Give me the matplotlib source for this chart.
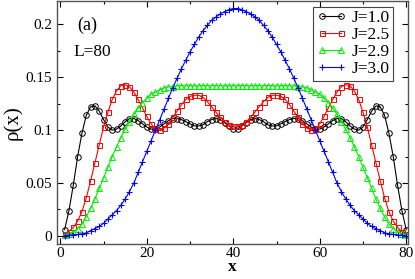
import numpy as np
import matplotlib
matplotlib.use("Agg")
import matplotlib.pyplot as plt
from matplotlib.ticker import MultipleLocator, FuncFormatter

plt.rcParams["font.family"] = ["Liberation Serif", "DejaVu Serif"]

# site index (L = 80)
x = np.arange(1, 81)

rho_j10 = [
    0.006, 0.024, 0.048, 0.075, 0.097, 0.114, 0.122, 0.123, 0.118, 0.110,
    0.103, 0.100, 0.101, 0.104, 0.108, 0.111, 0.111, 0.109, 0.106, 0.103,
    0.101, 0.101, 0.103, 0.106, 0.109, 0.111, 0.111, 0.110, 0.108, 0.106,
    0.104, 0.104, 0.105, 0.108, 0.110, 0.111, 0.110, 0.107, 0.104, 0.101,
    0.101, 0.104, 0.107, 0.110, 0.111, 0.110, 0.108, 0.105, 0.104, 0.104,
    0.106, 0.108, 0.110, 0.111, 0.111, 0.109, 0.106, 0.103, 0.101, 0.101,
    0.103, 0.106, 0.109, 0.111, 0.111, 0.108, 0.104, 0.101, 0.100, 0.103,
    0.110, 0.118, 0.123, 0.122, 0.114, 0.097, 0.075, 0.048, 0.024, 0.006,
]
rho_j25 = [
    0.002, 0.004, 0.008, 0.014, 0.023, 0.036, 0.052, 0.069, 0.086, 0.103,
    0.117, 0.129, 0.137, 0.142, 0.143, 0.141, 0.136, 0.129, 0.121, 0.113,
    0.106, 0.101, 0.100, 0.102, 0.106, 0.112, 0.118, 0.124, 0.129, 0.132,
    0.133, 0.133, 0.131, 0.127, 0.122, 0.117, 0.112, 0.108, 0.105, 0.104,
    0.104, 0.105, 0.108, 0.112, 0.117, 0.122, 0.127, 0.131, 0.133, 0.133,
    0.132, 0.129, 0.124, 0.118, 0.112, 0.106, 0.102, 0.100, 0.101, 0.106,
    0.113, 0.121, 0.129, 0.136, 0.141, 0.143, 0.142, 0.137, 0.129, 0.117,
    0.103, 0.086, 0.069, 0.052, 0.036, 0.023, 0.014, 0.008, 0.004, 0.002,
]
rho_j29 = [
    0.001, 0.002, 0.004, 0.007, 0.011, 0.018, 0.026, 0.035, 0.045, 0.055,
    0.065, 0.075, 0.084, 0.093, 0.101, 0.108, 0.115, 0.121, 0.126, 0.130,
    0.134, 0.136, 0.138, 0.140, 0.141, 0.141, 0.142, 0.142, 0.142, 0.142,
    0.142, 0.142, 0.142, 0.142, 0.142, 0.142, 0.142, 0.142, 0.142, 0.142,
    0.142, 0.142, 0.142, 0.142, 0.142, 0.142, 0.142, 0.142, 0.142, 0.142,
    0.142, 0.142, 0.142, 0.142, 0.141, 0.141, 0.140, 0.138, 0.136, 0.134,
    0.130, 0.126, 0.121, 0.115, 0.108, 0.101, 0.093, 0.084, 0.075, 0.065,
    0.055, 0.045, 0.035, 0.026, 0.018, 0.011, 0.007, 0.004, 0.002, 0.001,
]
rho_j30 = [
    0.0002, 0.0005, 0.001, 0.0015, 0.002, 0.003, 0.005, 0.007, 0.009, 0.012,
    0.016, 0.020, 0.024, 0.029, 0.035, 0.042, 0.050, 0.060, 0.070, 0.080,
    0.090, 0.100, 0.110, 0.120, 0.130, 0.140, 0.149, 0.158, 0.166, 0.174,
    0.181, 0.188, 0.194, 0.199, 0.204, 0.207, 0.210, 0.212, 0.214, 0.215,
    0.215, 0.214, 0.212, 0.210, 0.207, 0.204, 0.199, 0.194, 0.188, 0.181,
    0.174, 0.166, 0.158, 0.149, 0.140, 0.130, 0.120, 0.110, 0.100, 0.090,
    0.080, 0.070, 0.060, 0.050, 0.042, 0.035, 0.029, 0.024, 0.020, 0.016,
    0.012, 0.009, 0.007, 0.005, 0.003, 0.002, 0.0015, 0.001, 0.0005, 0.0002,
]

labels = ["J=1.0", "J=2.5", "J=2.9", "J=3.0"]

fig = plt.figure(figsize=(4.15, 2.79), dpi=100)
ax = fig.add_axes([0.137, 0.124, 0.846, 0.872])

lw = 0.8
ax.plot(x, rho_j10, "-o", color="black", lw=lw, ms=4, mfc="none", mew=0.7, label=labels[0])
ax.plot(x, rho_j25, "-s", color="red", lw=lw, ms=3.6, mfc="none", mew=0.7, label=labels[1])
ax.plot(x, rho_j29, "-^", color="#00ee00", lw=lw, ms=3.8, mfc="none", mew=0.7, label=labels[2])
ax.plot(x, rho_j30, "-+", color="#0000ff", lw=lw, ms=4.5, mew=0.8, label=labels[3])

ax.set_xlim(-0.8, 80.4)
ax.set_ylim(-0.008, 0.222)
ax.xaxis.set_major_locator(MultipleLocator(20))
ax.xaxis.set_minor_locator(MultipleLocator(10))
ax.yaxis.set_major_locator(MultipleLocator(0.05))
ax.yaxis.set_minor_locator(MultipleLocator(0.025))
ax.yaxis.set_major_formatter(FuncFormatter(lambda v, p: f"{v:g}" if abs(v) > 1e-9 else "0"))
ax.tick_params(which="both", direction="in", top=True, right=True, labelsize=11)
ax.tick_params(which="major", length=4, width=0.8)
ax.tick_params(which="minor", length=2.5, width=0.8)
ax.tick_params(axis="x", pad=2)
for s in ax.spines.values():
    s.set_color("#555555")
    s.set_linewidth(1.0)

ax.set_xlabel("x", fontsize=12.5, fontweight="bold", labelpad=-1)
ax.set_ylabel("ρ(x)", fontsize=15, labelpad=2)

ax.text(0.057, 0.90, "(a)", transform=ax.transAxes, fontsize=13, va="center")
ax.text(0.046, 0.79, "L=80", transform=ax.transAxes, fontsize=12.5, va="center")

leg = ax.legend(loc="upper right", bbox_to_anchor=(0.962, 0.985), fontsize=12.5,
                numpoints=2, handlelength=1.7, handletextpad=0.3, labelspacing=0.05,
                borderpad=0.2, borderaxespad=0.1, fancybox=False, framealpha=1)
leg.get_frame().set_edgecolor("#444444")
leg.get_frame().set_linewidth(0.8)

fig.savefig("out.png", dpi=100)
